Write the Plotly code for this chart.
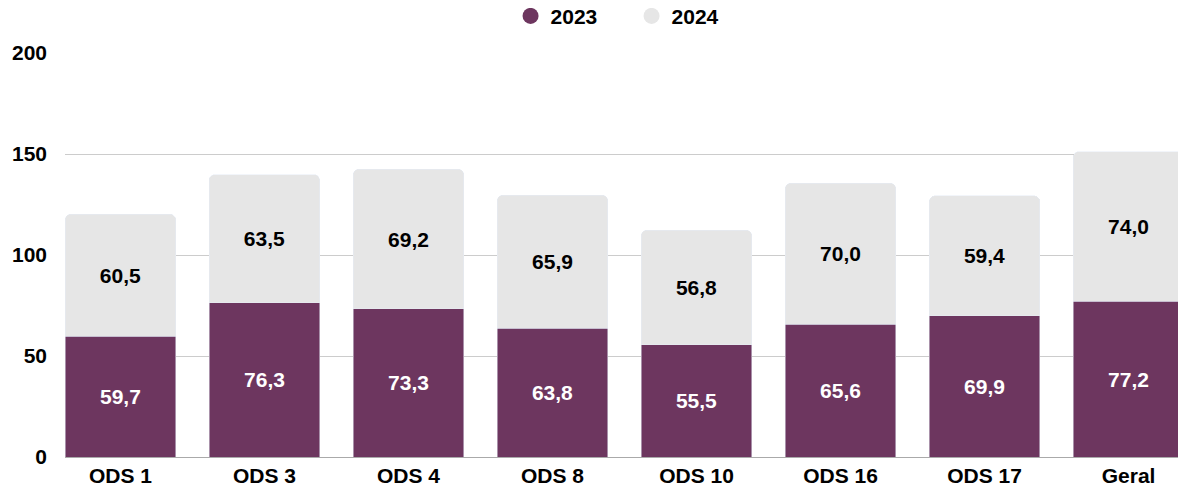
import plotly.graph_objects as go

categories = ["ODS 1", "ODS 3", "ODS 4", "ODS 8", "ODS 10", "ODS 16", "ODS 17", "Geral"]
values_2023 = [59.7, 76.3, 73.3, 63.8, 55.5, 65.6, 69.9, 77.2]
values_2024 = [60.5, 63.5, 69.2, 65.9, 56.8, 70.0, 59.4, 74.0]
series_names = ["2023", "2024"]
y_ticks = [0, 50, 100, 150, 200]

PURPLE = "#6D365F"
GRAY = "#E6E6E6"
FONT = "Liberation Sans, Arial, sans-serif"
FS = 21

fig = go.Figure()
fig.add_trace(go.Bar(
    x=categories, y=values_2023, name=series_names[0], marker_color=PURPLE,
    width=0.77, texttemplate="%{y:.1f}", textposition="inside",
    insidetextanchor="middle", textangle=0, constraintext="none",
    textfont=dict(color="white", size=FS, family=FONT, weight="bold"),
    showlegend=False, hoverinfo="skip",
))
fig.add_trace(go.Bar(
    x=categories, y=values_2024, name=series_names[1], marker_color=GRAY,
    width=0.77, texttemplate="%{y:.1f}", textposition="inside",
    insidetextanchor="middle", textangle=0, constraintext="none",
    textfont=dict(color="black", size=FS, family=FONT, weight="bold"),
    showlegend=False, hoverinfo="skip",
))
for name, color in zip(series_names, [PURPLE, GRAY]):
    fig.add_trace(go.Scatter(
        x=[None], y=[None], mode="markers", name=name,
        marker=dict(symbol="circle", size=23, color=color),
    ))

fig.update_layout(
    width=1178, height=482,
    barmode="stack", barcornerradius=6,
    separators=",.",
    paper_bgcolor="white", plot_bgcolor="white",
    margin=dict(l=57, r=0, t=45, b=33, autoexpand=False),
    font=dict(family=FONT, size=FS, color="black", weight="bold"),
    legend=dict(orientation="h", x=0.5054, xanchor="center", y=1.091, yanchor="middle",
                traceorder="normal",
                font=dict(size=FS, weight="bold"),
                itemwidth=30, itemsizing="trace", entrywidth=76),
    xaxis=dict(range=[-0.385, 7.399], showgrid=False, ticks="", showline=False,
               automargin=False, ticklabelstandoff=4,
               tickfont=dict(size=FS, weight="bold")),
    yaxis=dict(range=[0, 200], tickvals=y_ticks, showgrid=True, gridcolor="#CCCCCC",
               zeroline=True, zerolinecolor="#AAAAAA", zerolinewidth=1,
               automargin=False, ticks="", ticklabelstandoff=17,
               tickfont=dict(size=FS, weight="bold")),
)

fig.write_html("out.html")
